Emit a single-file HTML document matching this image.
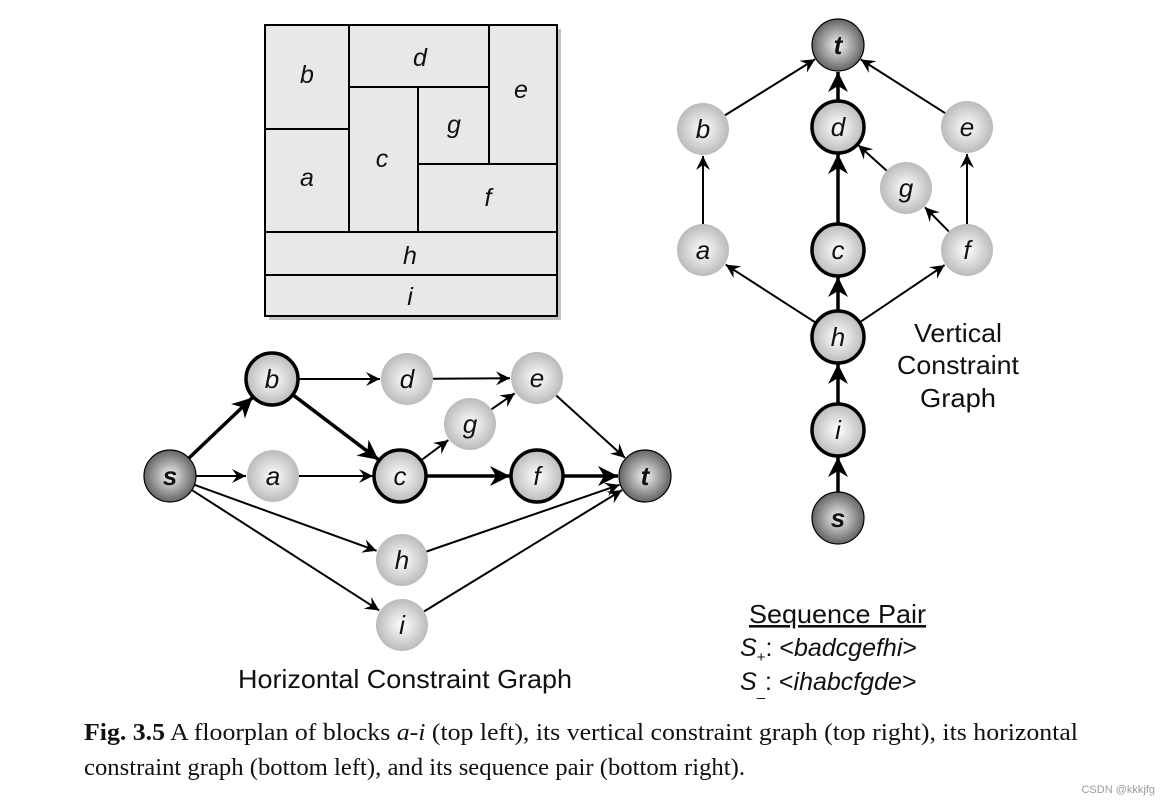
<!DOCTYPE html>
<html><head><meta charset="utf-8"><style>
html,body{margin:0;padding:0;background:#fff;}
svg{display:block}
.t{font-family:"Liberation Sans",sans-serif;}
.cap{font-family:"Liberation Serif",serif;font-size:24px;fill:#111;}
</style></head><body>
<svg id="s" width="1164" height="801" viewBox="0 0 1164 801" xmlns="http://www.w3.org/2000/svg">
<defs>
<radialGradient id="gl" cx="50%" cy="50%" r="55%"><stop offset="0" stop-color="#ffffff"/><stop offset="1" stop-color="#b4b4b4"/></radialGradient>
<radialGradient id="gd" cx="50%" cy="50%" r="55%"><stop offset="0" stop-color="#f4f4f4"/><stop offset="1" stop-color="#555"/></radialGradient>
<marker id="ma" markerUnits="userSpaceOnUse" markerWidth="16" markerHeight="14" refX="14" refY="7" orient="auto"><path d="M0,0 L14,7 L0,14 L5,7 z" fill="#000"/></marker>
<marker id="mb" markerUnits="userSpaceOnUse" markerWidth="22" markerHeight="20" refX="20" refY="10" orient="auto"><path d="M0,0 L20,10 L0,20 L6,10 z" fill="#000"/></marker>
</defs>
<rect x="269" y="29" width="292" height="291" fill="#888" opacity="0.5"/>
<rect x="265" y="25" width="292" height="291" fill="#e8e8e8" stroke="#000" stroke-width="2"/>
<g stroke="#000" stroke-width="2" fill="none">
<line x1="349" y1="25" x2="349" y2="232"/>
<line x1="265" y1="129" x2="349" y2="129"/>
<line x1="349" y1="87" x2="489" y2="87"/>
<line x1="489" y1="25" x2="489" y2="164"/>
<line x1="418" y1="87" x2="418" y2="232"/>
<line x1="418" y1="164" x2="557" y2="164"/>
<line x1="265" y1="232" x2="557" y2="232"/>
<line x1="265" y1="275" x2="557" y2="275"/>
</g>
<g class="t" font-size="25" font-style="italic" text-anchor="middle" fill="#111">
<text x="307" y="83">b</text><text x="420" y="66">d</text><text x="521" y="98">e</text>
<text x="454" y="133">g</text><text x="382" y="167">c</text><text x="307" y="186">a</text>
<text x="488" y="206">f</text><text x="410" y="264">h</text><text x="410" y="305">i</text>
</g>
<g id="edges"></g><g id="nodes"></g>
<g class="t" font-size="26" fill="#111">
<text x="238" y="688" textLength="334" lengthAdjust="spacingAndGlyphs">Horizontal Constraint Graph</text>
<text x="914" y="342" textLength="88" lengthAdjust="spacingAndGlyphs">Vertical</text>
<text x="897" y="374" textLength="122" lengthAdjust="spacingAndGlyphs">Constraint</text>
<text x="920" y="407" textLength="76" lengthAdjust="spacingAndGlyphs">Graph</text>
<text x="749" y="623" textLength="177" lengthAdjust="spacingAndGlyphs" text-decoration="underline">Sequence Pair</text>
</g>
<g class="t" font-size="25" fill="#111">
<text x="740" y="656"><tspan font-style="italic">S</tspan><tspan font-size="15" dy="6">+</tspan><tspan dy="-6">: &lt;</tspan><tspan font-style="italic">badcgefhi</tspan>&gt;</text>
<text x="740" y="690"><tspan font-style="italic">S</tspan><tspan font-size="15" dy="6">_</tspan><tspan dy="-6">: &lt;</tspan><tspan font-style="italic">ihabcfgde</tspan>&gt;</text>
</g>
<text class="cap" x="84" y="740" textLength="994" lengthAdjust="spacingAndGlyphs"><tspan font-weight="bold">Fig. 3.5</tspan> A floorplan of blocks <tspan font-style="italic">a-i</tspan> (top left), its vertical constraint graph (top right), its horizontal</text>
<text class="cap" x="84" y="775" textLength="661" lengthAdjust="spacingAndGlyphs">constraint graph (bottom left), and its sequence pair (bottom right).</text>
<text x="1155" y="793" text-anchor="end" font-family="Liberation Sans,sans-serif" font-size="11" fill="#999">CSDN @kkkjfg</text>
</svg>
<script>
var R=26,NS="http://www.w3.org/2000/svg";
var H={s:[170,476,'d',0],b:[272,379,'l',1],d:[407,379,'l',0],e:[537,378,'l',0],g:[470,424,'l',0],a:[273,476,'l',0],c:[400,476,'l',1],f:[537,476,'l',1],t:[645,476,'d',0],h:[402,560,'l',0],i:[402,625,'l',0]};
var V={t:[838,45,'d',0],b:[703,129,'l',0],d:[838,127,'l',1],e:[967,127,'l',0],g:[906,188,'l',0],a:[703,250,'l',0],c:[838,250,'l',1],f:[967,250,'l',0],h:[838,337,'l',1],i:[838,430,'l',1],s:[838,518,'d',0]};
var HE=[['s','b',1],['b','c',1],['c','f',1],['f','t',1],['s','a'],['a','c'],['b','d'],['d','e'],['c','g'],['g','e'],['e','t'],['s','h'],['s','i'],['h','t'],['i','t']];
var VE=[['s','i',1],['i','h',1],['h','c',1],['c','d',1],['d','t',1],['h','a'],['h','f'],['a','b'],['b','t'],['g','d'],['f','g'],['f','e'],['e','t']];
var eg=document.getElementById('edges'),ng=document.getElementById('nodes');
function el(n,a,p){var e=document.createElementNS(NS,n);for(var k in a)e.setAttribute(k,a[k]);p.appendChild(e);return e;}
function draw(N,E){
 E.forEach(function(x){var A=N[x[0]],B=N[x[1]],dx=B[0]-A[0],dy=B[1]-A[1],L=Math.hypot(dx,dy),ux=dx/L,uy=dy/L;
  el('line',{x1:A[0]+ux*R,y1:A[1]+uy*R,x2:B[0]-ux*(R+1),y2:B[1]-uy*(R+1),stroke:'#000','stroke-width':x[2]?3.5:2,'marker-end':x[2]?'url(#mb)':'url(#ma)'},eg);});
 for(var k in N){var n=N[k];
  el('circle',{cx:n[0],cy:n[1],r:R,fill:n[2]=='d'?'url(#gd)':'url(#gl)',stroke:n[3]||n[2]=='d'?'#000':'none','stroke-width':n[3]?3.5:1.2},ng);
  var t=el('text',{x:n[0],y:n[1]+9,'text-anchor':'middle','font-size':26,'font-style':'italic','font-weight':n[2]=='d'?'bold':'normal','font-family':'Liberation Sans,sans-serif',fill:'#111'},ng);t.textContent=k;}
}
draw(H,HE);draw(V,VE);
</script>
</body></html>
